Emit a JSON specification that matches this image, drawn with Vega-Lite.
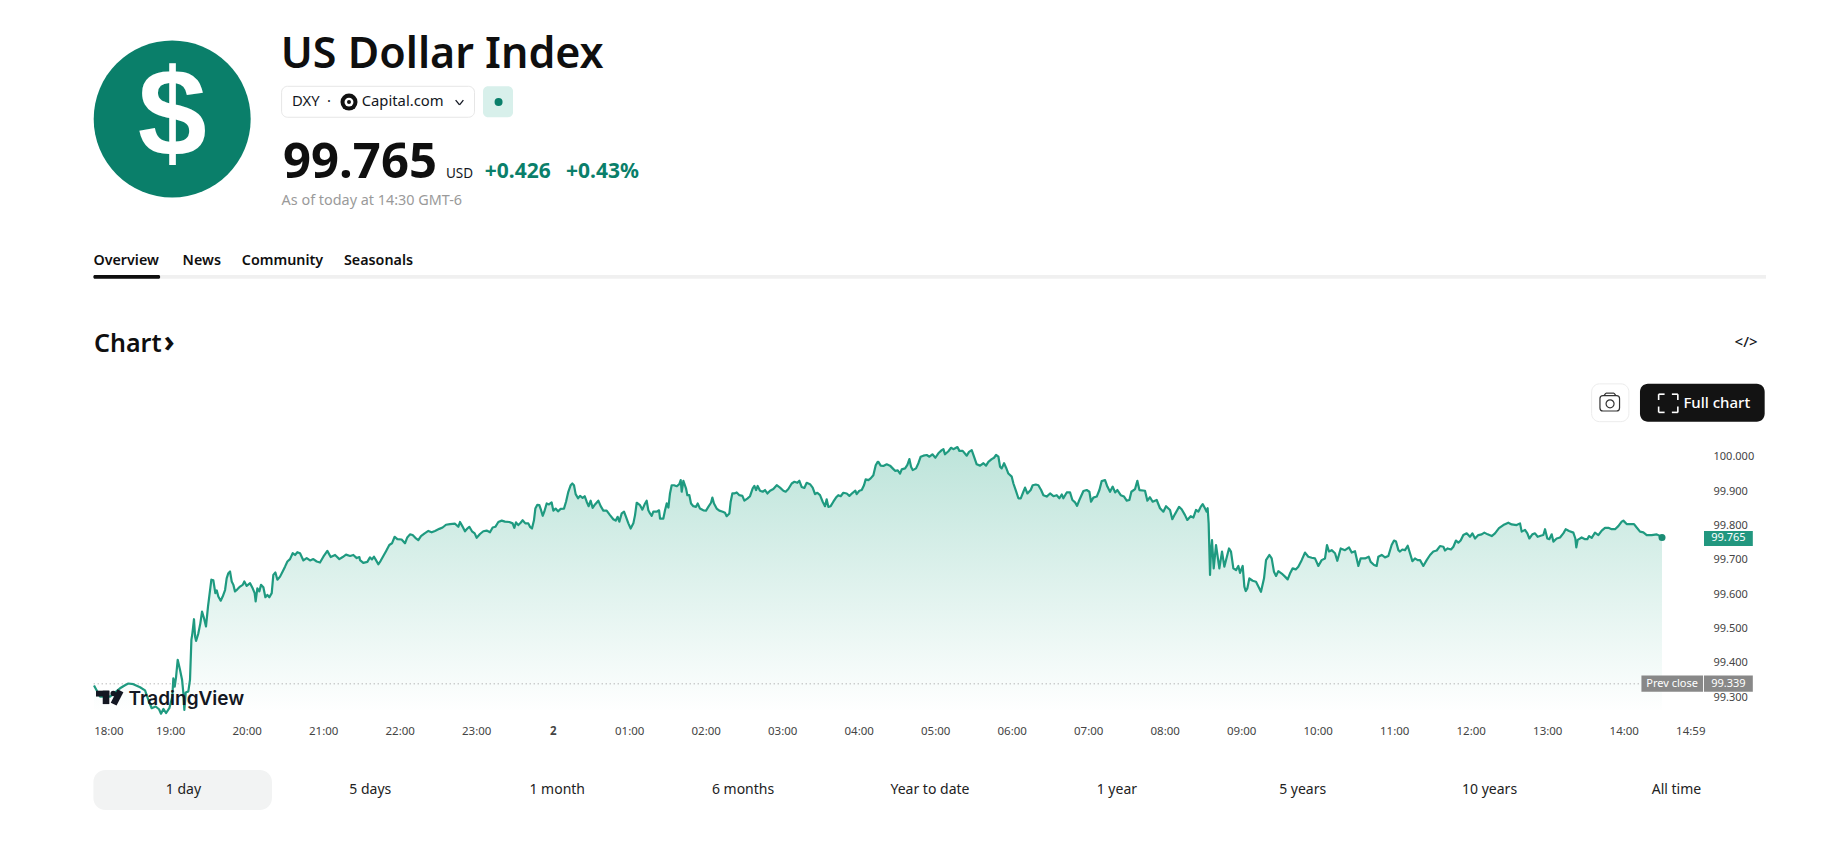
{
  "$schema": "https://vega.github.io/schema/vega-lite/v6.json",
  "description": "US Dollar Index intraday chart",
  "width": 1831,
  "height": 847,
  "padding": 0,
  "autosize": {"type": "none"},
  "background": "#ffffff",
  "config": {"view": {"stroke": null}, "font": "Noto Sans"},
  "datasets": {
    "prices": [
      {"hour":0.004,"price":99.334},{"hour":0.083,"price":99.302},{"hour":0.213,"price":99.302},{"hour":0.344,"price":99.326},{"hour":0.409,"price":99.335},{"hour":0.453,"price":99.34},{"hour":0.518,"price":99.338},{"hour":0.606,"price":99.329},{"hour":0.671,"price":99.32},{"hour":0.715,"price":99.292},{"hour":0.758,"price":99.268},{"hour":0.81,"price":99.273},{"hour":0.854,"price":99.265},{"hour":0.88,"price":99.252},{"hour":0.911,"price":99.266},{"hour":0.945,"price":99.254},{"hour":0.989,"price":99.268},{"hour":1.028,"price":99.302},{"hour":1.041,"price":99.355},{"hour":1.059,"price":99.331},{"hour":1.076,"price":99.358},{"hour":1.098,"price":99.409},{"hour":1.128,"price":99.38},{"hour":1.155,"price":99.351},{"hour":1.172,"price":99.312},{"hour":1.185,"price":99.263},{"hour":1.203,"price":99.314},{"hour":1.237,"price":99.317},{"hour":1.259,"price":99.351},{"hour":1.277,"price":99.467},{"hour":1.29,"price":99.486},{"hour":1.311,"price":99.527},{"hour":1.325,"price":99.477},{"hour":1.338,"price":99.464},{"hour":1.368,"price":99.486},{"hour":1.394,"price":99.515},{"hour":1.416,"price":99.549},{"hour":1.442,"price":99.53},{"hour":1.468,"price":99.506},{"hour":1.494,"price":99.564},{"hour":1.521,"price":99.612},{"hour":1.538,"price":99.642},{"hour":1.564,"price":99.64},{"hour":1.59,"price":99.603},{"hour":1.608,"price":99.611},{"hour":1.629,"price":99.593},{"hour":1.66,"price":99.581},{"hour":1.686,"price":99.593},{"hour":1.717,"price":99.612},{"hour":1.738,"price":99.646},{"hour":1.76,"price":99.661},{"hour":1.782,"price":99.666},{"hour":1.804,"price":99.637},{"hour":1.826,"price":99.627},{"hour":1.847,"price":99.608},{"hour":1.878,"price":99.614},{"hour":1.913,"price":99.622},{"hour":1.948,"price":99.627},{"hour":1.969,"price":99.637},{"hour":2.0,"price":99.624},{"hour":2.044,"price":99.632},{"hour":2.078,"price":99.617},{"hour":2.104,"price":99.603},{"hour":2.117,"price":99.579},{"hour":2.139,"price":99.617},{"hour":2.165,"price":99.608},{"hour":2.187,"price":99.627},{"hour":2.218,"price":99.62},{"hour":2.244,"price":99.591},{"hour":2.27,"price":99.598},{"hour":2.296,"price":99.591},{"hour":2.327,"price":99.603},{"hour":2.348,"price":99.656},{"hour":2.375,"price":99.663},{"hour":2.401,"price":99.642},{"hour":2.436,"price":99.651},{"hour":2.47,"price":99.666},{"hour":2.501,"price":99.68},{"hour":2.532,"price":99.695},{"hour":2.566,"price":99.702},{"hour":2.601,"price":99.719},{"hour":2.632,"price":99.714},{"hour":2.662,"price":99.722},{"hour":2.697,"price":99.719},{"hour":2.741,"price":99.698},{"hour":2.784,"price":99.705},{"hour":2.828,"price":99.698},{"hour":2.871,"price":99.702},{"hour":2.915,"price":99.695},{"hour":2.958,"price":99.692},{"hour":3.002,"price":99.709},{"hour":3.054,"price":99.726},{"hour":3.098,"price":99.708},{"hour":3.155,"price":99.714},{"hour":3.211,"price":99.702},{"hour":3.255,"price":99.708},{"hour":3.298,"price":99.715},{"hour":3.351,"price":99.711},{"hour":3.394,"price":99.714},{"hour":3.438,"price":99.705},{"hour":3.473,"price":99.708},
      {"hour":3.481,"price":99.699},{"hour":3.524,"price":99.691},{"hour":3.577,"price":99.694},{"hour":3.611,"price":99.707},{"hour":3.638,"price":99.701},{"hour":3.664,"price":99.709},{"hour":3.69,"price":99.699},{"hour":3.72,"price":99.687},{"hour":3.751,"price":99.697},{"hour":3.786,"price":99.711},{"hour":3.821,"price":99.725},{"hour":3.864,"price":99.743},{"hour":3.899,"price":99.748},{"hour":3.934,"price":99.767},{"hour":3.969,"price":99.76},{"hour":4.025,"price":99.759},{"hour":4.069,"price":99.748},{"hour":4.099,"price":99.765},{"hour":4.134,"price":99.774},{"hour":4.169,"price":99.772},{"hour":4.204,"price":99.764},{"hour":4.243,"price":99.757},{"hour":4.278,"price":99.769},{"hour":4.326,"price":99.777},{"hour":4.374,"price":99.784},{"hour":4.418,"price":99.78},{"hour":4.461,"price":99.784},{"hour":4.518,"price":99.79},{"hour":4.561,"price":99.794},{"hour":4.605,"price":99.802},{"hour":4.657,"price":99.804},{"hour":4.723,"price":99.805},{"hour":4.766,"price":99.796},{"hour":4.788,"price":99.81},{"hour":4.818,"price":99.798},{"hour":4.853,"price":99.783},{"hour":4.884,"price":99.791},{"hour":4.91,"price":99.796},{"hour":4.945,"price":99.783},{"hour":4.98,"price":99.777},{"hour":5.006,"price":99.764},{"hour":5.049,"price":99.775},{"hour":5.093,"price":99.783},{"hour":5.136,"price":99.785},{"hour":5.18,"price":99.78},{"hour":5.215,"price":99.794},{"hour":5.25,"price":99.796},{"hour":5.289,"price":99.81},{"hour":5.333,"price":99.814},{"hour":5.376,"price":99.811},{"hour":5.433,"price":99.81},{"hour":5.476,"price":99.806},{"hour":5.498,"price":99.793},{"hour":5.52,"price":99.809},{"hour":5.55,"price":99.801},{"hour":5.581,"price":99.808},{"hour":5.607,"price":99.815},{"hour":5.642,"price":99.806},{"hour":5.681,"price":99.806},{"hour":5.703,"price":99.796},{"hour":5.729,"price":99.791},{"hour":5.755,"price":99.815},{"hour":5.773,"price":99.849},{"hour":5.799,"price":99.86},{"hour":5.825,"price":99.859},{"hour":5.847,"price":99.845},{"hour":5.869,"price":99.828},{"hour":5.89,"price":99.84},{"hour":5.921,"price":99.864},{"hour":5.951,"price":99.861},{"hour":5.986,"price":99.867},{"hour":6.008,"price":99.843},{"hour":6.038,"price":99.849},{"hour":6.069,"price":99.841},{"hour":6.104,"price":99.848},{"hour":6.147,"price":99.849},{"hour":6.174,"price":99.869},{"hour":6.204,"price":99.898},{"hour":6.235,"price":99.917},{"hour":6.256,"price":99.922},{"hour":6.278,"price":99.917},{"hour":6.3,"price":99.891},{"hour":6.331,"price":99.879},{"hour":6.357,"price":99.886},{"hour":6.391,"price":99.88},{"hour":6.418,"price":99.885},{"hour":6.444,"price":99.869},{"hour":6.47,"price":99.856},{"hour":6.496,"price":99.872},{"hour":6.522,"price":99.851},{"hour":6.553,"price":99.861},{"hour":6.596,"price":99.872},{"hour":6.627,"price":99.856},{"hour":6.662,"price":99.843},{"hour":6.705,"price":99.843},{"hour":6.749,"price":99.83},{"hour":6.792,"price":99.818},{"hour":6.823,"price":99.814},{"hour":6.849,"price":99.825},{"hour":6.871,"price":99.811},
      {"hour":6.902,"price":99.835},{"hour":6.932,"price":99.84},{"hour":6.958,"price":99.825},{"hour":6.989,"price":99.806},{"hour":7.019,"price":99.791},{"hour":7.054,"price":99.806},{"hour":7.076,"price":99.83},{"hour":7.098,"price":99.866},{"hour":7.141,"price":99.859},{"hour":7.172,"price":99.846},{"hour":7.207,"price":99.864},{"hour":7.228,"price":99.872},{"hour":7.25,"price":99.844},{"hour":7.272,"price":99.835},{"hour":7.294,"price":99.828},{"hour":7.315,"price":99.84},{"hour":7.359,"price":99.84},{"hour":7.39,"price":99.844},{"hour":7.403,"price":99.82},{"hour":7.446,"price":99.82},{"hour":7.468,"price":99.844},{"hour":7.49,"price":99.864},{"hour":7.512,"price":99.852},{"hour":7.533,"price":99.893},{"hour":7.555,"price":99.917},{"hour":7.586,"price":99.917},{"hour":7.62,"price":99.914},{"hour":7.655,"price":99.92},{"hour":7.673,"price":99.932},{"hour":7.686,"price":99.898},{"hour":7.708,"price":99.93},{"hour":7.742,"price":99.908},{"hour":7.76,"price":99.888},{"hour":7.786,"price":99.888},{"hour":7.808,"price":99.864},{"hour":7.838,"price":99.856},{"hour":7.873,"price":99.854},{"hour":7.895,"price":99.864},{"hour":7.925,"price":99.849},{"hour":7.969,"price":99.844},{"hour":8.004,"price":99.843},{"hour":8.034,"price":99.854},{"hour":8.069,"price":99.866},{"hour":8.087,"price":99.881},{"hour":8.108,"price":99.864},{"hour":8.143,"price":99.849},{"hour":8.178,"price":99.843},{"hour":8.222,"price":99.84},{"hour":8.252,"price":99.837},{"hour":8.274,"price":99.827},{"hour":8.309,"price":99.835},{"hour":8.326,"price":99.869},{"hour":8.348,"price":99.893},{"hour":8.374,"price":99.893},{"hour":8.405,"price":99.896},{"hour":8.44,"price":99.888},{"hour":8.479,"price":99.886},{"hour":8.505,"price":99.872},{"hour":8.544,"price":99.878},{"hour":8.579,"price":99.885},{"hour":8.614,"price":99.908},{"hour":8.636,"price":99.915},{"hour":8.658,"price":99.903},{"hour":8.679,"price":99.915},{"hour":8.71,"price":99.901},{"hour":8.745,"price":99.898},{"hour":8.775,"price":99.903},{"hour":8.806,"price":99.893},{"hour":8.841,"price":99.901},{"hour":8.884,"price":99.906},{"hour":8.928,"price":99.917},{"hour":8.971,"price":99.91},{"hour":9.015,"price":99.901},{"hour":9.045,"price":99.898},{"hour":9.08,"price":99.906},{"hour":9.124,"price":99.922},{"hour":9.159,"price":99.927},{"hour":9.198,"price":99.924},{"hour":9.224,"price":99.93},{"hour":9.254,"price":99.912},{"hour":9.289,"price":99.909},{"hour":9.32,"price":99.924},{"hour":9.363,"price":99.92},{"hour":9.398,"price":99.91},{"hour":9.429,"price":99.891},{"hour":9.459,"price":99.895},{"hour":9.494,"price":99.888},{"hour":9.529,"price":99.869},{"hour":9.559,"price":99.856},{"hour":9.581,"price":99.876},{"hour":9.603,"price":99.854},{"hour":9.633,"price":99.856},{"hour":9.668,"price":99.869},{"hour":9.703,"price":99.881},{"hour":9.733,"price":99.888},{"hour":9.764,"price":99.885},{"hour":9.799,"price":99.895},{"hour":9.843,"price":99.893},{"hour":9.878,"price":99.886},{"hour":9.921,"price":99.895},{"hour":9.956,"price":99.901},{"hour":9.973,"price":99.891},{"hour":10.008,"price":99.901},{"hour":10.039,"price":99.903},{"hour":10.069,"price":99.917},{"hour":10.091,"price":99.934},{"hour":10.126,"price":99.932},{"hour":10.156,"price":99.937},{"hour":10.191,"price":99.946},{"hour":10.222,"price":99.975},{"hour":10.248,"price":99.985},
      {"hour":10.257,"price":99.985},{"hour":10.287,"price":99.974},{"hour":10.322,"price":99.973},{"hour":10.366,"price":99.978},{"hour":10.409,"price":99.974},{"hour":10.444,"price":99.966},{"hour":10.475,"price":99.959},{"hour":10.51,"price":99.96},{"hour":10.54,"price":99.951},{"hour":10.562,"price":99.963},{"hour":10.606,"price":99.966},{"hour":10.636,"price":99.976},{"hour":10.662,"price":99.993},{"hour":10.684,"price":99.971},{"hour":10.706,"price":99.961},{"hour":10.749,"price":99.966},{"hour":10.78,"price":99.981},{"hour":10.81,"price":100.0},{"hour":10.845,"price":100.003},{"hour":10.889,"price":100.005},{"hour":10.924,"price":100.0},{"hour":10.963,"price":100.007},{"hour":11.002,"price":99.997},{"hour":11.041,"price":100.01},{"hour":11.085,"price":100.019},{"hour":11.107,"price":100.022},{"hour":11.128,"price":100.007},{"hour":11.172,"price":100.016},{"hour":11.207,"price":100.026},{"hour":11.237,"price":100.022},{"hour":11.29,"price":100.028},{"hour":11.316,"price":100.017},{"hour":11.359,"price":100.017},{"hour":11.412,"price":100.003},{"hour":11.442,"price":100.014},{"hour":11.477,"price":100.019},{"hour":11.507,"price":100.0},{"hour":11.542,"price":99.978},{"hour":11.586,"price":99.974},{"hour":11.63,"price":99.981},{"hour":11.664,"price":99.974},{"hour":11.695,"price":99.985},{"hour":11.738,"price":99.993},{"hour":11.769,"price":99.997},{"hour":11.795,"price":100.005},{"hour":11.826,"price":100.0},{"hour":11.847,"price":99.971},{"hour":11.869,"price":99.966},{"hour":11.9,"price":99.981},{"hour":11.926,"price":99.968},{"hour":11.956,"price":99.951},{"hour":12.0,"price":99.942},{"hour":12.022,"price":99.922},{"hour":12.052,"price":99.903},{"hour":12.087,"price":99.879},{"hour":12.118,"price":99.879},{"hour":12.152,"price":99.898},{"hour":12.174,"price":99.91},{"hour":12.205,"price":99.893},{"hour":12.248,"price":99.903},{"hour":12.274,"price":99.917},{"hour":12.314,"price":99.919},{"hour":12.348,"price":99.917},{"hour":12.384,"price":99.903},{"hour":12.414,"price":99.888},{"hour":12.457,"price":99.884},{"hour":12.501,"price":99.893},{"hour":12.545,"price":99.885},{"hour":12.588,"price":99.888},{"hour":12.623,"price":99.879},{"hour":12.654,"price":99.89},{"hour":12.675,"price":99.879},{"hour":12.719,"price":99.896},{"hour":12.762,"price":99.896},{"hour":12.793,"price":99.874},{"hour":12.828,"price":99.867},{"hour":12.854,"price":99.857},{"hour":12.884,"price":99.874},{"hour":12.937,"price":99.9},{"hour":12.98,"price":99.903},{"hour":13.015,"price":99.898},{"hour":13.037,"price":99.869},{"hour":13.067,"price":99.881},{"hour":13.111,"price":99.884},{"hour":13.146,"price":99.903},{"hour":13.176,"price":99.929},{"hour":13.22,"price":99.932},{"hour":13.25,"price":99.913},{"hour":13.285,"price":99.898},{"hour":13.32,"price":99.913},{"hour":13.351,"price":99.896},{"hour":13.381,"price":99.903},{"hour":13.425,"price":99.888},{"hour":13.468,"price":99.884},{"hour":13.503,"price":99.872},{"hour":13.538,"price":99.874},{"hour":13.564,"price":99.898},{"hour":13.612,"price":99.906},{"hour":13.642,"price":99.93},{"hour":13.669,"price":99.903},
      {"hour":13.742,"price":99.901},{"hour":13.773,"price":99.872},{"hour":13.807,"price":99.882},{"hour":13.842,"price":99.869},{"hour":13.895,"price":99.874},{"hour":13.938,"price":99.85},{"hour":13.982,"price":99.84},{"hour":14.017,"price":99.856},{"hour":14.069,"price":99.845},{"hour":14.099,"price":99.818},{"hour":14.134,"price":99.833},{"hour":14.187,"price":99.854},{"hour":14.221,"price":99.847},{"hour":14.265,"price":99.83},{"hour":14.295,"price":99.816},{"hour":14.339,"price":99.827},{"hour":14.374,"price":99.823},{"hour":14.409,"price":99.845},{"hour":14.439,"price":99.84},{"hour":14.47,"price":99.854},{"hour":14.496,"price":99.862},{"hour":14.526,"price":99.85},{"hour":14.548,"price":99.84},{"hour":14.561,"price":99.85},{"hour":14.574,"price":99.806},{"hour":14.592,"price":99.656},{"hour":14.605,"price":99.728},{"hour":14.618,"price":99.757},{"hour":14.64,"price":99.675},{"hour":14.67,"price":99.743},{"hour":14.714,"price":99.675},{"hour":14.749,"price":99.724},{"hour":14.779,"price":99.68},{"hour":14.818,"price":99.714},{"hour":14.84,"price":99.733},{"hour":14.866,"price":99.724},{"hour":14.897,"price":99.675},{"hour":14.932,"price":99.67},{"hour":14.962,"price":99.682},{"hour":14.984,"price":99.662},{"hour":15.019,"price":99.682},{"hour":15.041,"price":99.622},{"hour":15.058,"price":99.609},{"hour":15.08,"price":99.617},{"hour":15.106,"price":99.646},{"hour":15.149,"price":99.639},{"hour":15.193,"price":99.636},{"hour":15.224,"price":99.622},{"hour":15.258,"price":99.607},{"hour":15.298,"price":99.646},{"hour":15.324,"price":99.699},{"hour":15.367,"price":99.714},{"hour":15.398,"price":99.704},{"hour":15.428,"price":99.665},{"hour":15.455,"price":99.653},{"hour":15.485,"price":99.667},{"hour":15.529,"price":99.66},{"hour":15.572,"price":99.651},{"hour":15.607,"price":99.643},{"hour":15.637,"price":99.66},{"hour":15.672,"price":99.675},{"hour":15.712,"price":99.672},{"hour":15.746,"price":99.68},{"hour":15.79,"price":99.699},{"hour":15.834,"price":99.721},{"hour":15.877,"price":99.709},{"hour":15.921,"price":99.706},{"hour":15.964,"price":99.704},{"hour":16.008,"price":99.682},{"hour":16.051,"price":99.699},{"hour":16.095,"price":99.704},{"hour":16.121,"price":99.743},{"hour":16.147,"price":99.724},{"hour":16.182,"price":99.728},{"hour":16.226,"price":99.719},{"hour":16.256,"price":99.697},{"hour":16.3,"price":99.733},{"hour":16.356,"price":99.728},{"hour":16.409,"price":99.736},{"hour":16.444,"price":99.721},{"hour":16.487,"price":99.725},{"hour":16.531,"price":99.682},{"hour":16.561,"price":99.704},{"hour":16.618,"price":99.704},{"hour":16.666,"price":99.709},{"hour":16.692,"price":99.694},{"hour":16.736,"price":99.685},{"hour":16.77,"price":99.682},{"hour":16.792,"price":99.709},{"hour":16.836,"price":99.714},{"hour":16.879,"price":99.707},{"hour":16.923,"price":99.711},{"hour":16.966,"price":99.743},{"hour":16.997,"price":99.756},{"hour":17.023,"price":99.753},{"hour":17.054,"price":99.728},
      {"hour":17.075,"price":99.724},{"hour":17.106,"price":99.73},{"hour":17.141,"price":99.728},{"hour":17.176,"price":99.741},{"hour":17.206,"price":99.719},{"hour":17.237,"price":99.696},{"hour":17.271,"price":99.704},{"hour":17.306,"price":99.699},{"hour":17.337,"price":99.699},{"hour":17.38,"price":99.682},{"hour":17.424,"price":99.699},{"hour":17.468,"price":99.714},{"hour":17.511,"price":99.724},{"hour":17.555,"price":99.727},{"hour":17.598,"price":99.74},{"hour":17.642,"price":99.738},{"hour":17.664,"price":99.727},{"hour":17.698,"price":99.733},{"hour":17.742,"price":99.73},{"hour":17.773,"price":99.738},{"hour":17.807,"price":99.756},{"hour":17.838,"price":99.75},{"hour":17.868,"price":99.756},{"hour":17.903,"price":99.772},{"hour":17.947,"price":99.777},{"hour":17.99,"price":99.767},{"hour":18.021,"price":99.777},{"hour":18.056,"price":99.762},{"hour":18.099,"price":99.772},{"hour":18.143,"price":99.774},{"hour":18.178,"price":99.779},{"hour":18.221,"price":99.774},{"hour":18.274,"price":99.769},{"hour":18.317,"price":99.777},{"hour":18.369,"price":99.792},{"hour":18.426,"price":99.801},{"hour":18.491,"price":99.808},{"hour":18.535,"price":99.803},{"hour":18.6,"price":99.801},{"hour":18.644,"price":99.806},{"hour":18.666,"price":99.782},{"hour":18.709,"price":99.787},{"hour":18.74,"price":99.777},{"hour":18.766,"price":99.762},{"hour":18.805,"price":99.774},{"hour":18.84,"price":99.777},{"hour":18.875,"price":99.767},{"hour":18.914,"price":99.77},{"hour":18.949,"price":99.772},{"hour":18.971,"price":99.789},{"hour":19.001,"price":99.762},{"hour":19.027,"price":99.76},{"hour":19.058,"price":99.774},{"hour":19.08,"price":99.753},{"hour":19.123,"price":99.762},{"hour":19.167,"price":99.765},{"hour":19.21,"price":99.777},{"hour":19.241,"price":99.789},{"hour":19.285,"price":99.784},{"hour":19.341,"price":99.779},{"hour":19.367,"price":99.762},{"hour":19.38,"price":99.736},{"hour":19.398,"price":99.758},{"hour":19.45,"price":99.765},{"hour":19.494,"price":99.76},{"hour":19.524,"price":99.76},{"hour":19.546,"price":99.769},{"hour":19.581,"price":99.764},{"hour":19.624,"price":99.779},{"hour":19.668,"price":99.772},{"hour":19.712,"price":99.785},{"hour":19.755,"price":99.793},{"hour":19.799,"price":99.793},{"hour":19.842,"price":99.789},{"hour":19.886,"price":99.789},{"hour":19.929,"price":99.798},{"hour":19.973,"price":99.811},{"hour":19.995,"price":99.814},{"hour":20.038,"price":99.804},{"hour":20.082,"price":99.804},{"hour":20.134,"price":99.804},{"hour":20.169,"price":99.794},{"hour":20.213,"price":99.782},{"hour":20.256,"price":99.78},{"hour":20.3,"price":99.772},{"hour":20.365,"price":99.772},{"hour":20.431,"price":99.774},{"hour":20.474,"price":99.769},{"hour":20.5,"price":99.765}
    ]
  },
  "encoding": {
    "x": {
      "field": "hour",
      "type": "quantitative",
      "scale": {"domain": [-1.2248, 22.709], "nice": false, "zero": false},
      "axis": {
        "title": null,
        "orient": "bottom",
        "offset": -127,
        "grid": false,
        "domain": false,
        "ticks": false,
        "tickSize": 0,
        "labelPadding": 5,
        "labelFontSize": 11.5,
        "labelColor": "#444444",
        "labelOverlap": false,
        "labelFontWeight": {"condition": {"test": "datum.value == 6", "value": "bold"}, "value": "normal"},
        "labelAlign": {"condition": {"test": "datum.value == 0", "value": "left"}, "value": "center"},
        "values": [0,1,2,3,4,5,6,7,8,9,10,11,12,13,14,15,16,17,18,19,20,20.87],
        "labelExpr": "datum.value > 20 ? '14:59' : ['18:00','19:00','20:00','21:00','22:00','23:00','2','01:00','02:00','03:00','04:00','05:00','06:00','07:00','08:00','09:00','10:00','11:00','12:00','13:00','14:00'][datum.value]"
      }
    },
    "y": {
      "field": "price",
      "type": "quantitative",
      "scale": {"domain": [98.8641, 101.3292], "nice": false, "zero": false},
      "axis": {
        "title": null,
        "orient": "right",
        "offset": -118,
        "grid": false,
        "domain": false,
        "ticks": false,
        "tickSize": 0,
        "labelPadding": 0,
        "labelFontSize": 11,
        "labelColor": "#444444",
        "labelOverlap": false,
        "values": [99.3,99.4,99.5,99.6,99.7,99.8,99.9,100],
        "format": ".3f"
      }
    }
  },
  "layer": [
    {
      "data": {"name": "prices"},
      "mark": {
        "type": "area",
        "fill": {"gradient": "linear", "x1": 0, "y1": 0, "x2": 0, "y2": 1, "stops": [{"offset": 0, "color": "#bde4da"}, {"offset": 1, "color": "#ffffff"}]}
      },
      "encoding": {"y2": {"datum": 99.263}}
    },
    {
      "data": {"values": [{"hour": 0, "hour2": 20.226, "price": 99.339}]},
      "mark": {"type": "rule", "stroke": "#9a9a9a", "strokeWidth": 1, "strokeDash": [1, 3]},
      "encoding": {"x2": {"field": "hour2"}}
    },
    {
      "data": {"name": "prices"},
      "mark": {"type": "line", "stroke": "#1f9a80", "strokeWidth": 2.2, "strokeJoin": "round"}
    },
    {
      "data": {"values": [{"hour": 20.5, "price": 99.765}]},
      "mark": {"type": "point", "filled": true, "fill": "#1a8c74", "opacity": 1, "size": 49}
    },
    {
      "data": {"values": [
        {"hour": 0.03, "hour2": 0.204, "price": 99.319, "price2": 99.302},
        {"hour": 0.118, "hour2": 0.204, "price": 99.319, "price2": 99.28}
      ]},
      "mark": {"type": "rect", "fill": "#131722"},
      "encoding": {"x2": {"field": "hour2"}, "y2": {"field": "price2"}}
    },
    {
      "data": {"values": [{"hour": 0.256, "price": 99.311}]},
      "mark": {"type": "point", "filled": true, "fill": "#131722", "opacity": 1, "size": 31}
    },
    {
      "data": {"values": [{"hour": 0.35, "hour2": 0.261, "price": 99.319, "price2": 99.28}]},
      "mark": {"type": "rule", "stroke": "#131722", "strokeWidth": 6.5},
      "encoding": {"x2": {"field": "hour2"}, "y2": {"field": "price2"}}
    },
    {
      "data": {"values": [{"hour": 0.454, "price": 99.277, "label": "TradingView"}]},
      "mark": {"type": "text", "align": "left", "baseline": "alphabetic", "font": "Inter", "fontSize": 19, "fontWeight": 600, "fill": "#131722"},
      "encoding": {"text": {"field": "label"}}
    },
    {
      "data": {"values": [
        {"hour": 20.231, "hour2": 21.037, "price": 99.363, "price2": 99.316},
        {"hour": 21.049, "hour2": 21.687, "price": 99.363, "price2": 99.316}
      ]},
      "mark": {"type": "rect", "fill": "#888888"},
      "encoding": {"x2": {"field": "hour2"}, "y2": {"field": "price2"}}
    },
    {
      "data": {"values": [{"hour": 21.049, "hour2": 21.687, "price": 99.784, "price2": 99.74}]},
      "mark": {"type": "rect", "fill": "#22977f"},
      "encoding": {"x2": {"field": "hour2"}, "y2": {"field": "price2"}}
    },
    {
      "data": {"values": [
        {"hour": 20.632, "price": 99.339, "label": "Prev close"},
        {"hour": 21.368, "price": 99.339, "label": "99.339"},
        {"hour": 21.368, "price": 99.762, "label": "99.765"}
      ]},
      "mark": {"type": "text", "align": "center", "baseline": "middle", "fontSize": 11, "fill": "#ffffff"},
      "encoding": {"text": {"field": "label"}}
    },
    {
      "data": {"values": [{"hour": 1.026, "price": 100.983}]},
      "mark": {"type": "point", "filled": true, "fill": "#0a7f6a", "opacity": 1, "size": 24650}
    },
    {
      "data": {"values": [{"hour": 1.026, "price": 100.983, "label": "$"}]},
      "mark": {"type": "text", "align": "center", "baseline": "middle", "font": "Liberation Sans", "fontSize": 124, "fontWeight": "bold", "fill": "#ffffff"},
      "encoding": {"text": {"field": "label"}}
    },
    {
      "data": {"values": [{"hour": 2.445, "price": 101.132, "label": "US Dollar Index"}]},
      "mark": {"type": "text", "align": "left", "baseline": "alphabetic", "fontSize": 43, "fontWeight": 600, "fill": "#0f0f0f"},
      "encoding": {"text": {"field": "label"}}
    },
    {
      "data": {"values": [{"hour": 2.456, "hour2": 4.978, "price": 101.078, "price2": 100.988}]},
      "mark": {"type": "rect", "fill": "#ffffff", "stroke": "#e6e6e6", "cornerRadius": 6},
      "encoding": {"x2": {"field": "hour2"}, "y2": {"field": "price2"}}
    },
    {
      "data": {"values": [
        {"hour": 2.592, "price": 101.032, "label": "DXY"},
        {"hour": 3.05, "price": 101.032, "label": "·"},
        {"hour": 3.503, "price": 101.032, "label": "Capital.com"}
      ]},
      "mark": {"type": "text", "align": "left", "baseline": "middle", "fontSize": 14.8, "fill": "#131722"},
      "encoding": {"text": {"field": "label"}}
    },
    {
      "data": {"values": [{"hour": 3.337, "price": 101.032}]},
      "mark": {"type": "point", "filled": true, "fill": "#111111", "opacity": 1, "size": 289}
    },
    {
      "data": {"values": [{"hour": 3.337, "price": 101.032}]},
      "mark": {"type": "point", "filled": true, "fill": "#ffffff", "opacity": 1, "size": 80}
    },
    {
      "data": {"values": [{"hour": 3.337, "price": 101.032}]},
      "mark": {"type": "point", "filled": true, "fill": "#111111", "opacity": 1, "size": 16}
    },
    {
      "data": {"values": [
        {"hour": 4.731, "hour2": 4.782, "price": 101.038, "price2": 101.024},
        {"hour": 4.782, "hour2": 4.832, "price": 101.024, "price2": 101.038}
      ]},
      "mark": {"type": "rule", "stroke": "#131722", "strokeWidth": 1.3},
      "encoding": {"x2": {"field": "hour2"}, "y2": {"field": "price2"}}
    },
    {
      "data": {"values": [{"hour": 5.089, "hour2": 5.481, "price": 101.078, "price2": 100.988}]},
      "mark": {"type": "rect", "fill": "#d8f0eb", "cornerRadius": 5},
      "encoding": {"x2": {"field": "hour2"}, "y2": {"field": "price2"}}
    },
    {
      "data": {"values": [{"hour": 5.292, "price": 101.032}]},
      "mark": {"type": "point", "filled": true, "fill": "#0a7f6a", "opacity": 1, "size": 64}
    },
    {
      "data": {"values": [{"hour": 2.475, "price": 100.811, "label": "99.765"}]},
      "mark": {"type": "text", "align": "left", "baseline": "alphabetic", "fontSize": 49, "fontWeight": "bold", "fill": "#0f0f0f"},
      "encoding": {"text": {"field": "label"}}
    },
    {
      "data": {"values": [{"hour": 4.605, "price": 100.811, "label": "USD"}]},
      "mark": {"type": "text", "align": "left", "baseline": "alphabetic", "fontSize": 13.5, "fill": "#131722"},
      "encoding": {"text": {"field": "label"}}
    },
    {
      "data": {"values": [
        {"hour": 5.111, "price": 100.811, "label": "+0.426"},
        {"hour": 6.174, "price": 100.811, "label": "+0.43%"}
      ]},
      "mark": {"type": "text", "align": "left", "baseline": "alphabetic", "fontSize": 21, "fontWeight": "bold", "fill": "#0a7f6a"},
      "encoding": {"text": {"field": "label"}}
    },
    {
      "data": {"values": [{"hour": 2.456, "price": 100.733, "label": "As of today at 14:30 GMT-6"}]},
      "mark": {"type": "text", "align": "left", "baseline": "alphabetic", "fontSize": 14.4, "fill": "#9a9a9a"},
      "encoding": {"text": {"field": "label"}}
    },
    {
      "data": {"values": [
        {"hour": -0.004, "price": 100.558, "label": "Overview"},
        {"hour": 1.162, "price": 100.558, "label": "News"},
        {"hour": 1.936, "price": 100.558, "label": "Community"},
        {"hour": 3.271, "price": 100.558, "label": "Seasonals"}
      ]},
      "mark": {"type": "text", "align": "left", "baseline": "alphabetic", "fontSize": 14.3, "fontWeight": 600, "fill": "#0f0f0f"},
      "encoding": {"text": {"field": "label"}}
    },
    {
      "data": {"values": [{"hour": -0.004, "hour2": 21.86, "price": 100.529, "price2": 100.518}]},
      "mark": {"type": "rect", "fill": "#f0f0f0"},
      "encoding": {"x2": {"field": "hour2"}, "y2": {"field": "price2"}}
    },
    {
      "data": {"values": [{"hour": -0.004, "hour2": 0.868, "price": 100.529, "price2": 100.518}]},
      "mark": {"type": "rect", "fill": "#0f0f0f", "cornerRadius": 1.5},
      "encoding": {"x2": {"field": "hour2"}, "y2": {"field": "price2"}}
    },
    {
      "data": {"values": [{"hour": 0.004, "price": 100.306, "label": "Chart"}]},
      "mark": {"type": "text", "align": "left", "baseline": "alphabetic", "fontSize": 25, "fontWeight": 600, "fill": "#0f0f0f"},
      "encoding": {"text": {"field": "label"}}
    },
    {
      "data": {"values": [{"hour": 0.915, "price": 100.306, "label": "›"}]},
      "mark": {"type": "text", "align": "left", "baseline": "alphabetic", "fontSize": 30, "fontWeight": "bold", "fill": "#0f0f0f"},
      "encoding": {"text": {"field": "label"}}
    },
    {
      "data": {"values": [{"hour": 21.599, "price": 100.334, "label": "</>"}]},
      "mark": {"type": "text", "align": "center", "baseline": "middle", "fontSize": 15, "fontWeight": 500, "fill": "#131722"},
      "encoding": {"text": {"field": "label"}}
    },
    {
      "data": {"values": [{"hour": 19.58, "hour2": 20.067, "price": 100.212, "price2": 100.102}]},
      "mark": {"type": "rect", "fill": "#ffffff", "stroke": "#ececec", "cornerRadius": 8},
      "encoding": {"x2": {"field": "hour2"}, "y2": {"field": "price2"}}
    },
    {
      "data": {"values": [{"hour": 19.689, "hour2": 19.945, "price": 100.178, "price2": 100.133}]},
      "mark": {"type": "rect", "fill": "#ffffff", "stroke": "#333333", "strokeWidth": 1.2, "cornerRadius": 3},
      "encoding": {"x2": {"field": "hour2"}, "y2": {"field": "price2"}}
    },
    {
      "data": {"values": [
        {"hour": 19.741, "hour2": 19.767, "price": 100.178, "price2": 100.185},
        {"hour": 19.767, "hour2": 19.872, "price": 100.185, "price2": 100.185},
        {"hour": 19.872, "hour2": 19.898, "price": 100.185, "price2": 100.178}
      ]},
      "mark": {"type": "rule", "stroke": "#333333", "strokeWidth": 1.2},
      "encoding": {"x2": {"field": "hour2"}, "y2": {"field": "price2"}}
    },
    {
      "data": {"values": [{"hour": 19.821, "price": 100.154}]},
      "mark": {"type": "point", "filled": false, "stroke": "#333333", "strokeWidth": 1.2, "opacity": 1, "size": 64}
    },
    {
      "data": {"values": [{"hour": 20.212, "hour2": 21.842, "price": 100.212, "price2": 100.102}]},
      "mark": {"type": "rect", "fill": "#131313", "cornerRadius": 8},
      "encoding": {"x2": {"field": "hour2"}, "y2": {"field": "price2"}}
    },
    {
      "data": {"values": [
        {"hour": 20.456, "hour2": 20.456, "price": 100.165, "price2": 100.182},
        {"hour": 20.456, "hour2": 20.534, "price": 100.182, "price2": 100.182},
        {"hour": 20.629, "hour2": 20.707, "price": 100.182, "price2": 100.182},
        {"hour": 20.707, "hour2": 20.707, "price": 100.182, "price2": 100.165},
        {"hour": 20.456, "hour2": 20.456, "price": 100.146, "price2": 100.129},
        {"hour": 20.456, "hour2": 20.534, "price": 100.129, "price2": 100.129},
        {"hour": 20.629, "hour2": 20.707, "price": 100.129, "price2": 100.129},
        {"hour": 20.707, "hour2": 20.707, "price": 100.129, "price2": 100.146}
      ]},
      "mark": {"type": "rule", "stroke": "#ffffff", "strokeWidth": 1.6},
      "encoding": {"x2": {"field": "hour2"}, "y2": {"field": "price2"}}
    },
    {
      "data": {"values": [{"hour": 20.78, "price": 100.157, "label": "Full chart"}]},
      "mark": {"type": "text", "align": "left", "baseline": "middle", "fontSize": 15, "fontWeight": 500, "fill": "#ffffff"},
      "encoding": {"text": {"field": "label"}}
    },
    {
      "data": {"values": [{"hour": -0.004, "hour2": 2.33, "price": 99.088, "price2": 98.972}]},
      "mark": {"type": "rect", "fill": "#f2f3f3", "cornerRadius": 12},
      "encoding": {"x2": {"field": "hour2"}, "y2": {"field": "price2"}}
    },
    {
      "data": {"values": [
        {"hour": 1.173, "price": 99.03, "label": "1 day"},
        {"hour": 3.616, "price": 99.03, "label": "5 days"},
        {"hour": 6.059, "price": 99.03, "label": "1 month"},
        {"hour": 8.488, "price": 99.03, "label": "6 months"},
        {"hour": 10.931, "price": 99.03, "label": "Year to date"},
        {"hour": 13.374, "price": 99.03, "label": "1 year"},
        {"hour": 15.803, "price": 99.03, "label": "5 years"},
        {"hour": 18.246, "price": 99.03, "label": "10 years"},
        {"hour": 20.689, "price": 99.03, "label": "All time"}
      ]},
      "mark": {"type": "text", "align": "center", "baseline": "middle", "fontSize": 14, "fill": "#222222"},
      "encoding": {"text": {"field": "label"}}
    }
  ]
}
